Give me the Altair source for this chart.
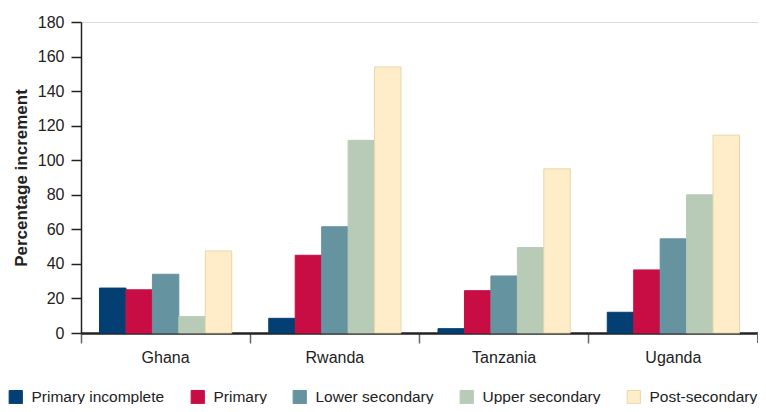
import altair as alt
import pandas as pd

countries = ["Ghana", "Rwanda", "Tanzania", "Uganda"]
levels = ["Primary incomplete", "Primary", "Lower secondary", "Upper secondary", "Post-secondary"]
primary_incomplete = [26, 8.5, 2.5, 12]
primary = [25, 45, 24.5, 36.5]
lower_secondary = [34, 61.5, 33, 54.5]
upper_secondary = [9.5, 111.5, 49.5, 80]
post_secondary = [47.5, 154, 95, 114.5]
colors = ["#033f72", "#c80d45", "#6693a0", "#b8cbb6", "#feedc8"]
strokes = ["#033f72", "#c80d45", "#6693a0", "#b8cbb6", "#e8d6a8"]

series = [primary_incomplete, primary, lower_secondary, upper_secondary, post_secondary]
rows = []
for lvl, vals in zip(levels, series):
    for c, v in zip(countries, vals):
        rows.append({"country": c, "level": lvl, "value": v})
df = pd.DataFrame(rows)

W, H = 677, 311
FONT = "Liberation Sans"

bars = alt.Chart(df).mark_bar(strokeWidth=1).encode(
    x=alt.X("country:N", sort=countries, title=None,
            scale=alt.Scale(paddingInner=0, paddingOuter=0),
            axis=alt.Axis(labelAngle=0, bandPosition=0, tickSize=10, tickColor="#666666",
                          tickWidth=1.5, domainColor="#222222", domainWidth=2.5,
                          labelFontSize=16, labelColor="#222222", labelPadding=6,
                          labelFont=FONT, grid=False)),
    xOffset=alt.XOffset("level:N", sort=levels,
                        scale=alt.Scale(paddingInner=0, paddingOuter=0.7)),
    y=alt.Y("value:Q", title="Percentage increment",
            scale=alt.Scale(domain=[0, 180], nice=False),
            axis=alt.Axis(values=list(range(0, 181, 20)), tickSize=10, tickColor="#222222",
                          tickWidth=1.5, domainColor="#222222", domainWidth=1.5,
                          labelFontSize=16, labelColor="#222222", labelPadding=7,
                          labelFont=FONT, grid=False, titleFont=FONT, titleFontSize=17,
                          titleFontWeight="bold", titleColor="#222222", titlePadding=7)),
    color=alt.Color("level:N", sort=levels,
                    scale=alt.Scale(domain=levels, range=colors),
                    legend=alt.Legend(title=None, orient="none", legendX=-73, legendY=367,
                                      direction="horizontal", symbolType="square",
                                      symbolSize=175, symbolStrokeWidth=1,
                                      labelFontSize=15.5, labelFont=FONT, labelColor="#222222",
                                      columnPadding=24, labelOffset=8)),
    stroke=alt.Stroke("level:N", sort=levels,
                      scale=alt.Scale(domain=levels, range=strokes), legend=None),
)

end_tick = alt.Chart(df).mark_rule(color="#666666", strokeWidth=1.5).encode(
    x=alt.value(W), y=alt.value(H), y2=alt.value(H + 10)
)

chart = alt.layer(bars, end_tick).properties(
    width=W, height=H,
    autosize=alt.AutoSizeParams(type="none"),
    padding={"left": 73, "top": 14, "right": 0, "bottom": 71},
).configure_view(stroke=None).configure(background="white")

chart.save("out.html", embed_options={"renderer": "svg", "actions": False})
